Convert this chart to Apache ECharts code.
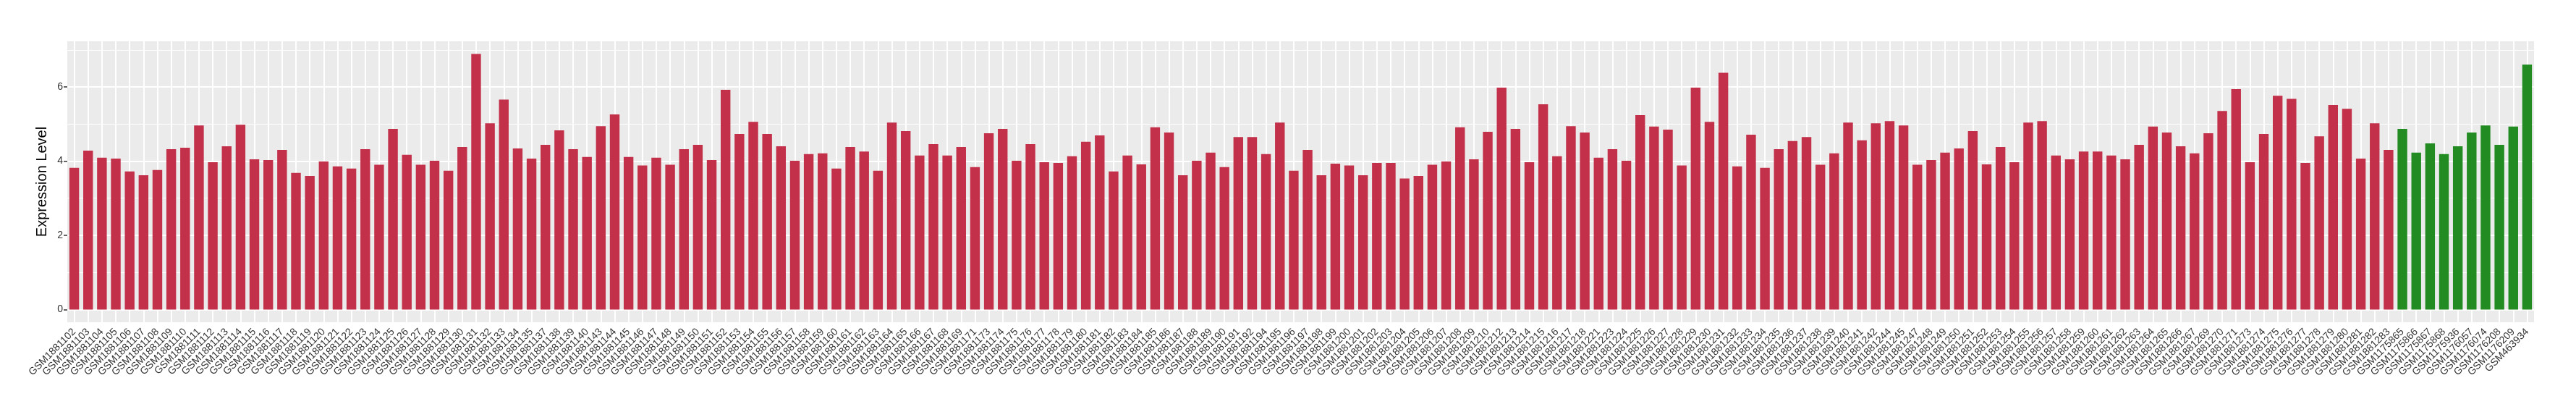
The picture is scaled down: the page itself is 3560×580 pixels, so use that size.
<!DOCTYPE html>
<html>
<head>
<meta charset="utf-8">
<script src="https://cdn.jsdelivr.net/npm/echarts@6/dist/echarts.min.js"></script>
<style>
html,body{margin:0;padding:0;background:#fff;}
#chart{width:3560px;height:580px;}
</style>
</head>
<body>
<div id="chart"></div>
<script>
// Sample names (x categories)
const redSamples = [
"GSM1881102","GSM1881103","GSM1881104","GSM1881105","GSM1881106","GSM1881107","GSM1881108","GSM1881109","GSM1881110","GSM1881111",
"GSM1881112","GSM1881113","GSM1881114","GSM1881115","GSM1881116","GSM1881117","GSM1881118","GSM1881119","GSM1881120","GSM1881121",
"GSM1881122","GSM1881123","GSM1881124","GSM1881125","GSM1881126","GSM1881127","GSM1881128","GSM1881129","GSM1881130","GSM1881131",
"GSM1881132","GSM1881133","GSM1881134","GSM1881135","GSM1881137","GSM1881138","GSM1881139","GSM1881140","GSM1881143","GSM1881144",
"GSM1881145","GSM1881146","GSM1881147","GSM1881148","GSM1881149","GSM1881150","GSM1881151","GSM1881152","GSM1881153","GSM1881154",
"GSM1881155","GSM1881156","GSM1881157","GSM1881158","GSM1881159","GSM1881160","GSM1881161","GSM1881162","GSM1881163","GSM1881164",
"GSM1881165","GSM1881166","GSM1881167","GSM1881168","GSM1881169","GSM1881171","GSM1881173","GSM1881174","GSM1881175","GSM1881176",
"GSM1881177","GSM1881178","GSM1881179","GSM1881180","GSM1881181","GSM1881182","GSM1881183","GSM1881184","GSM1881185","GSM1881186",
"GSM1881187","GSM1881188","GSM1881189","GSM1881190","GSM1881191","GSM1881192","GSM1881194","GSM1881195","GSM1881196","GSM1881197",
"GSM1881198","GSM1881199","GSM1881200","GSM1881201","GSM1881202","GSM1881203","GSM1881204","GSM1881205","GSM1881206","GSM1881207",
"GSM1881208","GSM1881209","GSM1881210","GSM1881212","GSM1881213","GSM1881214","GSM1881215","GSM1881216","GSM1881217","GSM1881218",
"GSM1881221","GSM1881223","GSM1881224","GSM1881225","GSM1881226","GSM1881227","GSM1881228","GSM1881229","GSM1881230","GSM1881231",
"GSM1881232","GSM1881233","GSM1881234","GSM1881235","GSM1881236","GSM1881237","GSM1881238","GSM1881239","GSM1881240","GSM1881241",
"GSM1881242","GSM1881244","GSM1881245","GSM1881247","GSM1881248","GSM1881249","GSM1881250","GSM1881251","GSM1881252","GSM1881253",
"GSM1881254","GSM1881255","GSM1881256","GSM1881257","GSM1881258","GSM1881259","GSM1881260","GSM1881261","GSM1881262","GSM1881263",
"GSM1881264","GSM1881265","GSM1881266","GSM1881267","GSM1881269","GSM1881270","GSM1881271","GSM1881273","GSM1881274","GSM1881275",
"GSM1881276","GSM1881277","GSM1881278","GSM1881279","GSM1881280","GSM1881281","GSM1881282","GSM1881283"
];
const greenSamples = [
"GSM1175865","GSM1175866","GSM1175867","GSM1175868","GSM1175936","GSM1176057","GSM1176074","GSM1176208","GSM1176209","GSM463934"
];

// Expression values
const redValues = [
3.82,4.28,4.09,4.07,3.72,3.62,3.76,4.32,4.36,4.96,3.97,4.40,4.98,4.05,4.03,4.30,3.68,3.60,3.99,3.86,3.80,4.32,3.90,4.87,4.17,3.90,4.01,3.74,4.38,6.89,
5.02,5.66,4.34,4.07,4.44,4.83,4.32,4.11,4.94,5.26,4.11,3.88,4.09,3.90,4.32,4.44,4.03,5.92,4.73,5.06,4.73,4.40,4.01,4.19,4.21,3.80,4.38,4.26,3.74,5.04,4.81,
4.15,4.46,4.15,4.38,3.84,4.75,4.87,4.01,4.46,3.97,3.95,4.13,4.52,4.69,3.72,4.15,3.91,4.91,4.77,3.62,4.01,4.23,3.84,4.65,4.65,4.19,5.04,3.74,4.30,3.62,
3.93,3.88,3.62,3.95,3.95,3.53,3.60,3.90,3.99,4.91,4.05,4.79,5.98,4.87,3.97,5.53,4.13,4.94,4.77,4.09,4.32,4.01,5.24,4.93,4.85,3.88,5.98,5.06,6.38,3.86,
4.71,3.82,4.32,4.54,4.65,3.90,4.21,5.04,4.56,5.02,5.08,4.96,3.90,4.03,4.23,4.34,4.81,3.91,4.38,3.97,5.04,5.08,4.15,4.05,4.26,4.26,4.15,4.05,4.44,4.93,4.77,
4.40,4.21,4.75,5.35,5.94,3.97,4.73,5.76,5.68,3.95,4.67,5.51,5.41,4.07,5.02,4.30
];
const greenValues = [4.87,4.23,4.48,4.19,4.40,4.77,4.96,4.44,4.93,6.60];

const yTickValues = [0, 2, 4, 6];
const yMinorValues = [1, 3, 5, 7];
const yTitle = "Expression Level";

const RED = "#C3304A";
const GREEN = "#228B22";

const categories = redSamples.concat(greenSamples);
const barData = redValues.map(v => ({value: v, itemStyle: {color: RED}}))
  .concat(greenValues.map(v => ({value: v, itemStyle: {color: GREEN}})));

const gridLines = []
  .concat(yMinorValues.map(v => ({yAxis: v, lineStyle: {color: "#fff", width: 1, type: "solid"}})))
  .concat(yTickValues.map(v => ({yAxis: v, lineStyle: {color: "#fff", width: 2, type: "solid"}})))
  .concat(categories.map(c => ({xAxis: c, lineStyle: {color: "#fff", width: 2, type: "solid"}})));

const chart = echarts.init(document.getElementById("chart"), null, {renderer: "canvas"});
chart.setOption({
  animation: false,
  backgroundColor: "#ffffff",
  textStyle: {fontFamily: "Liberation Sans"},
  grid: {left: 93, top: 57, width: 3409, height: 388, show: true, backgroundColor: "#EBEBEB", borderWidth: 0, containLabel: false},
  xAxis: {
    type: "category",
    data: categories,
    boundaryGap: true,
    axisLine: {show: false},
    axisTick: {show: true, alignWithLabel: true, length: 5, lineStyle: {color: "#333333", width: 1.5}},
    axisLabel: {interval: 0, rotate: 45, fontSize: 14, color: "#333333", margin: 11, fontFamily: "Liberation Sans"},
    splitLine: {show: false}
  },
  yAxis: {
    type: "value",
    min: -0.344,
    max: 7.23,
    name: yTitle,
    nameLocation: "middle",
    nameGap: 18,
    nameTextStyle: {fontSize: 20, color: "#000", fontFamily: "Liberation Sans"},
    axisLine: {show: false},
    axisTick: {show: true, length: 5, customValues: yTickValues, lineStyle: {color: "#333333", width: 1.5}},
    axisLabel: {customValues: yTickValues, fontSize: 14, color: "#333333", margin: 6, fontFamily: "Liberation Sans"},
    splitLine: {show: false}
  },
  series: [
    {
      type: "line",
      data: [],
      z: 1,
      silent: true,
      markLine: {silent: true, z: 1, symbol: ["none", "none"], label: {show: false}, animation: false, data: gridLines}
    },
    {
      type: "bar",
      data: barData,
      barWidth: "70%",
      z: 3
    }
  ]
});
</script>
</body>
</html>
